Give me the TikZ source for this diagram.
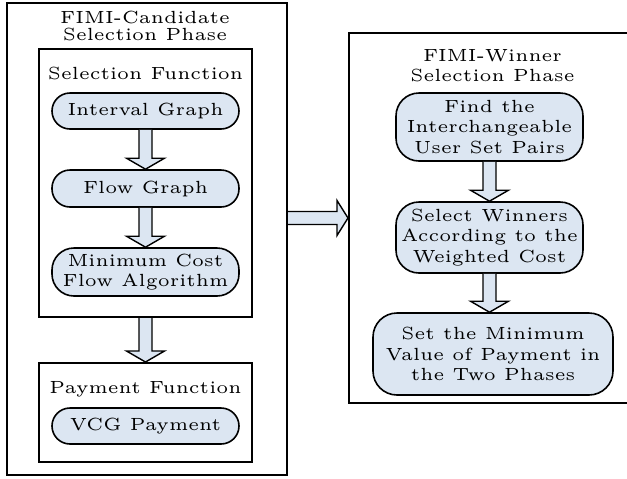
\documentclass[tikz,border=0pt]{standalone}
\usepackage{fontspec}
\setmainfont{lmroman5-regular.otf}
\usetikzlibrary{calc}
\definecolor{pillfill}{RGB}{220,230,242}
\newcommand\diaglbl{\fontsize{8.8}{10.3}\selectfont}
% block arrow pointing down, from the bottom of #1 to the top of #2
\newcommand\downflow[2]{%
  \filldraw[flowarrow] let \p1=(#1.south), \p2=(#2.north) in
    (\x1-3.25pt,\y1) -- (\x1-3.25pt,\y2+5.5pt) -- (\x1-9.5pt,\y2+5.5pt)
    -- (\x1,\y2) -- (\x1+9.5pt,\y2+5.5pt) -- (\x1+3.25pt,\y2+5.5pt)
    -- (\x1+3.25pt,\y1);}
% block arrow pointing right, from the side of #1 to the side of #2
\newcommand\rightflow[2]{%
  \filldraw[flowarrow] let \p1=(#1.east), \p2=(#2.west) in
    (\x1,\y2+3.25pt) -- (\x2-5.5pt,\y2+3.25pt) -- (\x2-5.5pt,\y2+8.75pt)
    -- (\x2,\y2) -- (\x2-5.5pt,\y2-8.75pt) -- (\x2-5.5pt,\y2-3.25pt)
    -- (\x1,\y2-3.25pt);}
\tikzset{
  frame/.style={draw=black, line width=1pt, inner sep=0pt},
  caption/.style={font=\diaglbl, align=center, inner sep=0pt},
  pill/.style={draw=black, line width=0.8pt, fill=pillfill, rounded corners=9pt,
    align=center, inner sep=0pt, font=\diaglbl, minimum width=93.5pt},
  tallpill/.style={pill, rounded corners=11.5pt},
  flowarrow/.style={draw=black, line width=0.7pt, fill=pillfill, line join=miter}
}
\begin{document}
\begin{tikzpicture}[x=0.5pt, y=-0.5pt]
\useasboundingbox (0,0) rectangle (627,478);

% candidate selection phase
\node[frame, minimum width=140pt, minimum height=236pt] (cand) at (147,239) {};
\node[caption, font={\fontsize{8.8}{8.3}\selectfont}] (candtitle) at (145,26)
  {FIMI-Candidate\\Selection Phase};

\node[frame, minimum width=106.5pt, minimum height=134pt] (selbox) at (145.5,183) {};
\node[caption, anchor=base] (seltitle) at (145.5,79) {Selection Function};
\node[pill, minimum height=18pt] (interval) at (145.5,111) {Interval Graph};
\node[pill, minimum height=18.5pt] (flow) at (145.5,188.5) {Flow Graph};
\node[pill, rounded corners=11pt, minimum height=24pt] (mincost) at (145.5,272)
  {Minimum Cost\\Flow Algorithm};

\node[frame, minimum width=106.5pt, minimum height=49.5pt] (paybox) at (145.5,412.5) {};
\node[caption, anchor=base] (paytitle) at (145.5,393) {Payment Function};
\node[pill, minimum height=18pt] (vcg) at (145.5,426) {VCG Payment};

\downflow{interval}{flow}
\downflow{flow}{mincost}
\downflow{selbox}{paybox}

% winner selection phase
\node[frame, minimum width=140.5pt, minimum height=185pt] (win) at (489.5,218) {};
\node[caption] (wintitle) at (492.5,65.5) {FIMI-Winner\\Selection Phase};
\node[tallpill, minimum height=34pt] (find) at (489.5,127)
  {Find the\\Interchangeable\\User Set Pairs};
\node[tallpill, minimum height=35.5pt] (select) at (489.5,237.5)
  {Select Winners\\According to the\\Weighted Cost};
\node[tallpill, rounded corners=12pt, minimum width=120pt, minimum height=41pt] (pay) at (493,354)
  {Set the Minimum\\Value of Payment in\\the Two Phases};

\downflow{find}{select}
\downflow{select}{pay}

\rightflow{cand}{win}
\end{tikzpicture}
\end{document}
